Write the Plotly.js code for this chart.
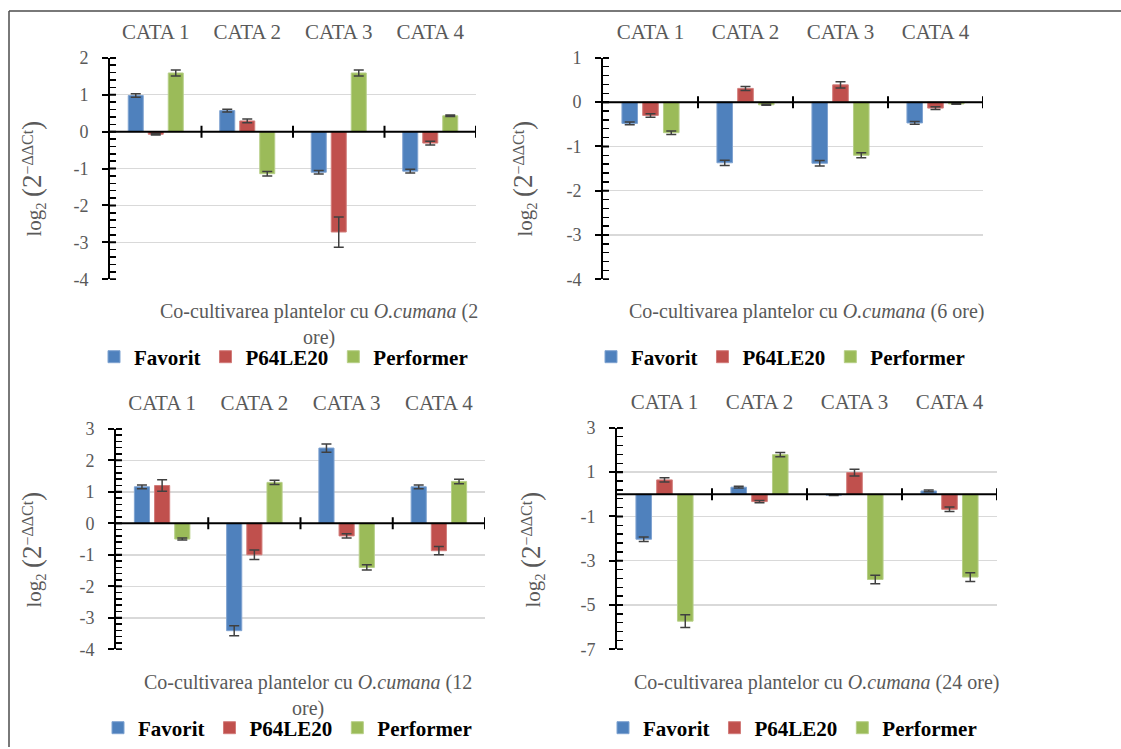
<!DOCTYPE html>
<html>
<head>
<meta charset="utf-8">
<script src="https://cdn.plot.ly/plotly-3.0.1.min.js"></script>
<style>html,body{margin:0;padding:0;background:#fff;}#chart{width:1121px;height:749px;}</style>
</head>
<body>
<div id="chart"></div>
<script>
// ---------- data ----------
const categories = ['CATA 1', 'CATA 2', 'CATA 3', 'CATA 4'];
const seriesNames = ['Favorit', 'P64LE20', 'Performer'];

// 2 ore
const fav2h = [0.98, 0.57, -1.10, -1.07];
const fav2hErr = [0.05, 0.035, 0.05, 0.05];
const p64_2h = [-0.07, 0.29, -2.72, -0.31];
const p64_2hErr = [0.02, 0.05, 0.41, 0.05];
const perf2h = [1.59, -1.14, 1.59, 0.43];
const perf2hErr = [0.08, 0.06, 0.08, 0.02];

// 6 ore
const fav6h = [-0.48, -1.37, -1.38, -0.47];
const fav6hErr = [0.03, 0.06, 0.06, 0.03];
const p64_6h = [-0.30, 0.31, 0.39, -0.135];
const p64_6hErr = [0.04, 0.045, 0.07, 0.03];
const perf6h = [-0.69, -0.06, -1.20, -0.04];
const perf6hErr = [0.04, 0.01, 0.055, 0.01];

// 12 ore
const fav12h = [1.16, -3.41, 2.39, 1.16];
const fav12hErr = [0.06, 0.16, 0.13, 0.06];
const p64_12h = [1.20, -1.00, -0.40, -0.87];
const p64_12hErr = [0.18, 0.15, 0.07, 0.13];
const perf12h = [-0.50, 1.30, -1.40, 1.33];
const perf12hErr = [0.03, 0.07, 0.08, 0.07];

// 24 ore
const fav24h = [-2.03, 0.32, -0.04, 0.15];
const fav24hErr = [0.10, 0.04, 0.02, 0.04];
const p64_24h = [0.65, -0.33, 0.98, -0.68];
const p64_24hErr = [0.10, 0.05, 0.15, 0.10];
const perf24h = [-5.73, 1.79, -3.85, -3.74];
const perf24hErr = [0.29, 0.10, 0.19, 0.20];

const xTitles = [
  'Co-cultivarea plantelor cu <i>O.cumana</i> (2<br>ore)',
  'Co-cultivarea plantelor cu <i>O.cumana</i> (6 ore)',
  'Co-cultivarea plantelor cu <i>O.cumana</i> (12<br>ore)',
  'Co-cultivarea plantelor cu <i>O.cumana</i> (24 ore)'
];
const yTitle = 'log<sub>2</sub> <span style="font-size:27px">(2</span><sup><span style="font-size:16px">\u2212\u0394\u0394Ct</span></sup><span style="font-size:27px">)</span>';

// ---------- styling / layout geometry ----------
const W = 1121, H = 749;
const FONT = 'Liberation Serif, Times New Roman, serif';
const GREY = '#595959';
const colors = ['#4F81BD', '#C0504D', '#9BBB59'];
const edge = ['#7FA3D1', '#D27C7A', '#B7CF88'];

const panels = [
  { vals: [fav2h, p64_2h, perf2h], errs: [fav2hErr, p64_2hErr, perf2hErr],
    px: [110, 476], py: [58, 280], range: [-4, 2], dtick: 1, tick0: 0, minor: 0.2,
    xt: [319, 325], yt: [33, 179], lg: [94, 358] },
  { vals: [fav6h, p64_6h, perf6h], errs: [fav6hErr, p64_6hErr, perf6hErr],
    px: [603, 983], py: [58, 280], range: [-4, 1], dtick: 1, tick0: 0, minor: 0.2,
    xt: [806, 312], yt: [524, 179], lg: [591, 358] },
  { vals: [fav12h, p64_12h, perf12h], errs: [fav12hErr, p64_12hErr, perf12hErr],
    px: [116, 485], py: [430, 651], range: [-4, 3], dtick: 1, tick0: 0, minor: 0.2,
    xt: [308, 697], yt: [33, 551], lg: [98, 730] },
  { vals: [fav24h, p64_24h, perf24h], errs: [fav24hErr, p64_24hErr, perf24hErr],
    px: [617, 997], py: [429, 651], range: [-7, 3], dtick: 2, tick0: 1, minor: 0.4,
    xt: [816, 684], yt: [532, 551], lg: [603, 730] }
];

const px2x = p => p / W;
const px2y = p => 1 - p / H;

const traces = [];
const layout = {
  width: W, height: H,
  margin: { l: 0, r: 0, t: 0, b: 0, pad: 0 },
  paper_bgcolor: '#fff', plot_bgcolor: 'rgba(0,0,0,0)',
  barmode: 'group', bargap: 0.344, bargroupgap: 0.25,
  font: { family: FONT, color: GREY },
  showlegend: true,
  shapes: [], annotations: []
};

panels.forEach((p, i) => {
  const n = i === 0 ? '' : String(i + 1);
  const xa = 'x' + n, ya = 'y' + n;
  const lg = 'legend' + n;
  seriesNames.forEach((name, s) => {
    traces.push({
      type: 'bar', name: name, x: categories, y: p.vals[s],
      xaxis: xa, yaxis: ya, legend: lg, showlegend: true,
      marker: { color: colors[s], line: { color: edge[s], width: 1 } },
      error_y: { type: 'data', array: p.errs[s], visible: true,
                 color: '#404040', thickness: 1.5, width: 5 },
      hoverinfo: 'x+y+name'
    });
  });
  // major tick values from range and step (labels with plain hyphen as in the reference)
  const tv = [];
  for (let v = p.tick0 + Math.ceil((p.range[0] - p.tick0) / p.dtick) * p.dtick; v <= p.range[1] + 1e-9; v += p.dtick) tv.push(v);
  layout['xaxis' + n] = {
    domain: [px2x(p.px[0]), px2x(p.px[1])], anchor: ya,
    type: 'category', side: 'top', range: [-0.5, categories.length - 0.5],
    showline: false, ticks: '', showgrid: false, zeroline: false,
    tickfont: { family: FONT, size: 21, color: GREY }, ticklabelstandoff: 14,
    fixedrange: true
  };
  layout['yaxis' + n] = {
    domain: [px2y(p.py[1]), px2y(p.py[0])], anchor: xa,
    range: p.range, tickmode: 'array', tickvals: tv, ticktext: tv.map(v => String(v)),
    showline: true, linecolor: '#000', linewidth: 2,
    ticks: 'outside', ticklen: 6, tickwidth: 2, tickcolor: '#000',
    minor: { dtick: p.minor, tick0: p.tick0, ticks: 'inside', ticklen: 6, tickwidth: 1.5, tickcolor: '#000', showgrid: false },
    showgrid: true, gridcolor: '#D9D9D9', gridwidth: 1.5,
    zeroline: false,
    tickfont: { family: FONT, size: 18, color: GREY }, ticklabelstandoff: 10,
    fixedrange: true
  };
  // inner half of the major ticks (they cross the axis line)
  tv.forEach(v => {
    layout.shapes.push({
      type: 'line', layer: 'above', xref: xa + ' domain', yref: ya,
      xsizemode: 'pixel', xanchor: 0, x0: 0, x1: 6, y0: v, y1: v,
      line: { color: '#000', width: 2 }
    });
  });
  // zero line acting as the category axis
  layout.shapes.push({
    type: 'line', layer: 'above', xref: xa + ' domain', yref: ya,
    x0: 0, x1: 1, y0: 0, y1: 0, line: { color: '#000', width: 2 }
  });
  // category boundary tick marks crossing the zero line
  for (let k = 1; k <= categories.length; k++) {
    layout.shapes.push({
      type: 'line', layer: 'above', xref: xa, yref: ya,
      ysizemode: 'pixel', yanchor: 0,
      x0: k - 0.5, x1: k - 0.5, y0: -6, y1: 6,
      line: { color: '#000', width: 2 }
    });
  }
  layout.annotations.push({
    text: xTitles[i], xref: 'paper', yref: 'paper',
    x: px2x(p.xt[0]), y: px2y(p.xt[1]), xanchor: 'center', yanchor: 'middle',
    showarrow: false, font: { family: FONT, size: 20, color: GREY }
  });
  layout.annotations.push({
    text: yTitle, xref: 'paper', yref: 'paper', textangle: -90,
    x: px2x(p.yt[0]), y: px2y(p.yt[1]), xanchor: 'center', yanchor: 'middle',
    showarrow: false, font: { family: FONT, size: 21, color: GREY }
  });
  layout[lg] = {
    orientation: 'h', x: px2x(p.lg[0]), y: px2y(p.lg[1]),
    xanchor: 'left', yanchor: 'middle', bgcolor: 'rgba(0,0,0,0)', borderwidth: 0,
    font: { family: FONT, size: 21, color: '#000', weight: 'bold' },
    itemclick: false, itemdoubleclick: false
  };
});

// outer frame (top and left edges visible)
layout.shapes.push({ type: 'line', xref: 'paper', yref: 'paper', x0: px2x(9), x1: 1, y0: px2y(11), y1: px2y(11), line: { color: '#4d4d4d', width: 1.5 } });
layout.shapes.push({ type: 'line', xref: 'paper', yref: 'paper', x0: px2x(9), x1: px2x(9), y0: px2y(11), y1: 0, line: { color: '#4d4d4d', width: 1.5 } });

Plotly.newPlot('chart', traces, layout, { displayModeBar: false, staticPlot: true });
</script>
</body>
</html>
